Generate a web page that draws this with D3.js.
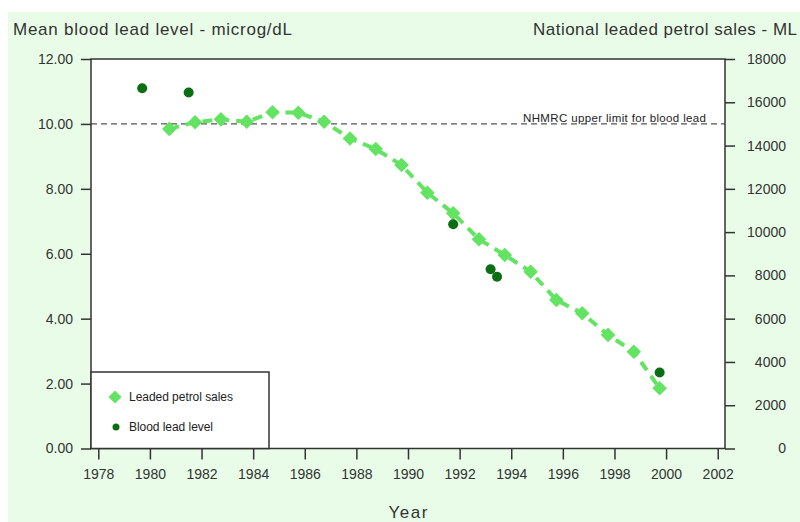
<!DOCTYPE html>
<html><head><meta charset="utf-8">
<script src="https://cdn.jsdelivr.net/npm/d3@7"></script>
<style>html,body{margin:0;padding:0;background:#fff;}svg{display:block;font-family:"Liberation Sans",Arial,sans-serif;}</style>
</head><body>
<svg id="c" width="800" height="522"></svg>
<script>
// Data
const petrolYears = [1980.75,1981.75,1982.75,1983.75,1984.75,1985.75,1986.75,1987.75,1988.75,1989.75,1990.75,1991.75,1992.75,1993.75,1994.75,1995.75,1996.75,1997.75,1998.75,1999.75];
const petrolSales = [14770,15080,15210,15100,15540,15520,15100,14330,13840,13100,11820,10870,9670,8940,8170,6860,6250,5250,4470,2780];
const bloodYears = [1979.7,1981.5,1991.75,1993.2,1993.45,1999.75];
const bloodLevels = [11.10,10.97,6.91,5.52,5.29,2.34];
const xTicks = [1978,1980,1982,1984,1986,1988,1990,1992,1994,1996,1998,2000,2002];
const leftTicks = [0,2,4,6,8,10,12];
const rightTicks = [0,2000,4000,6000,8000,10000,12000,14000,16000,18000];
const nhmrcLimit = 10;

const svg = d3.select("#c");
const L = 91, R = 725, T = 59, B = 448.5;
const x = d3.scaleLinear().domain([1978,2002]).range([98.3,717.7]);
const yL = d3.scaleLinear().domain([0,12]).range([B,T]);
const yR = d3.scaleLinear().domain([0,18000]).range([B,T]);
const axisCol = "#333";
const textCol = "#333";

svg.append("rect").attr("x",8).attr("y",12).attr("width",792).attr("height",510).attr("fill","#e8fce8");
svg.append("rect").attr("x",L).attr("y",T).attr("width",R-L).attr("height",B-T).attr("fill","#fff");

// titles
svg.append("text").attr("x",13).attr("y",35).attr("font-size",17).attr("fill",textCol)
  .attr("textLength",279).attr("lengthAdjust","spacing").text("Mean blood lead level - microg/dL");
svg.append("text").attr("x",533).attr("y",35).attr("font-size",17).attr("fill",textCol)
  .attr("textLength",264).attr("lengthAdjust","spacing").text("National leaded petrol sales - ML");
svg.append("text").attr("x",408).attr("y",518).attr("font-size",17).attr("fill",textCol)
  .attr("text-anchor","middle").attr("textLength",39).attr("lengthAdjust","spacing").text("Year");

// NHMRC line
svg.append("line").attr("x1",L).attr("x2",R).attr("y1",yL(nhmrcLimit)).attr("y2",yL(nhmrcLimit))
  .attr("stroke","#555").attr("stroke-width",1.3).attr("stroke-dasharray","6,4");
svg.append("text").attr("x",523).attr("y",yL(nhmrcLimit)-2).attr("font-size",11.5).attr("fill","#222")
  .attr("textLength",183).attr("lengthAdjust","spacing").text("NHMRC upper limit for blood lead");

// axes
const gL = svg.append("g").attr("transform",`translate(${L},0)`)
  .call(d3.axisLeft(yL).tickValues(leftTicks).tickFormat(d3.format(".2f")).tickSize(10).tickPadding(8));
const gR = svg.append("g").attr("transform",`translate(${R},0)`)
  .call(d3.axisRight(yR).tickValues(rightTicks).tickFormat(d=>String(d)).tickSize(10).tickPadding(8));
gR.selectAll("text").attr("text-anchor","end").attr("x",61);
const gB = svg.append("g").attr("transform",`translate(0,${B})`)
  .call(d3.axisBottom(x).tickValues(xTicks).tickFormat(d=>String(d)).tickSize(11).tickPadding(10));
[gL,gR,gB].forEach(g=>{
  g.select(".domain").remove();
  g.selectAll("line").attr("stroke",axisCol).attr("stroke-width",1.5);
  g.selectAll("text").attr("font-size",14).attr("fill",textCol).attr("font-family","Liberation Sans, Arial, sans-serif");
});
svg.append("rect").attr("x",L).attr("y",T).attr("width",R-L).attr("height",B-T)
  .attr("fill","none").attr("stroke",axisCol).attr("stroke-width",1.5);

// petrol line
const petrol = petrolYears.map((yr,i)=>({yr,v:petrolSales[i]}));
const lightGreen = "#62e462";
svg.append("path").datum(petrol)
  .attr("d",d3.line().x(d=>x(d.yr)).y(d=>yR(d.v)))
  .attr("fill","none").attr("stroke",lightGreen).attr("stroke-width",4).attr("stroke-dasharray","10,7");
svg.append("g").selectAll("path").data(petrol).join("path")
  .attr("d",d3.symbol(d3.symbolDiamond2,135))
  .attr("transform",d=>`translate(${x(d.yr)},${yR(d.v)})`)
  .attr("fill",lightGreen);

// blood dots
const blood = bloodYears.map((yr,i)=>({yr,v:bloodLevels[i]}));
const darkGreen = "#0b6e12";
svg.append("g").selectAll("circle").data(blood).join("circle")
  .attr("cx",d=>x(d.yr)).attr("cy",d=>yL(d.v)).attr("r",5).attr("fill",darkGreen);

// legend
svg.append("rect").attr("x",L).attr("y",372).attr("width",178).attr("height",B-372)
  .attr("fill","#fff").attr("stroke",axisCol).attr("stroke-width",1.5);
svg.append("path").attr("d",d3.symbol(d3.symbolDiamond2,110)).attr("transform","translate(115,397)").attr("fill",lightGreen);
svg.append("circle").attr("cx",116).attr("cy",427).attr("r",3.5).attr("fill",darkGreen);
svg.append("text").attr("x",129).attr("y",401).attr("font-size",12).attr("fill","#222")
  .attr("textLength",104).attr("lengthAdjust","spacing").text("Leaded petrol sales");
svg.append("text").attr("x",129).attr("y",431).attr("font-size",12).attr("fill","#222")
  .attr("textLength",84).attr("lengthAdjust","spacing").text("Blood lead level");
</script>
</body></html>
